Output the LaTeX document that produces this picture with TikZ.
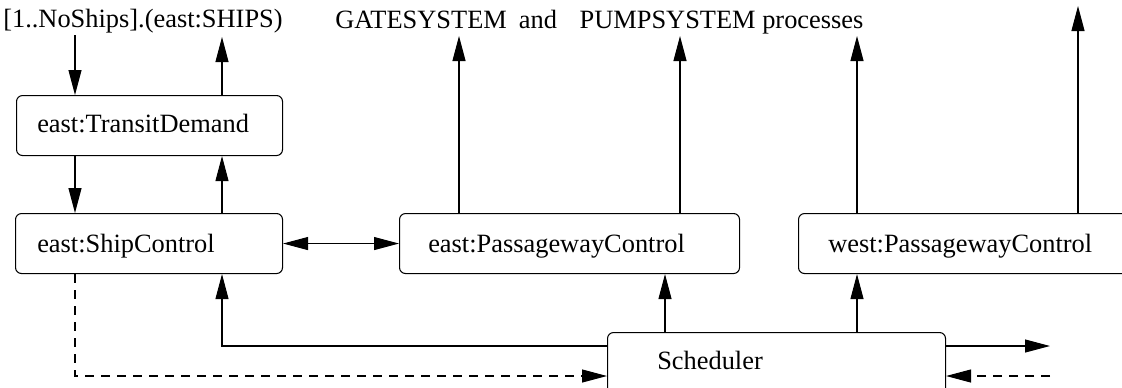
\documentclass[tikz,border=0pt]{standalone}
\usepackage{fontspec}
\setmainfont{Liberation Serif}
\usetikzlibrary{arrows.meta}

\begin{document}
\begin{tikzpicture}[x=0.75pt, y=-0.75pt,
  proc/.style={draw, line width=0.8pt, rounded corners=4.5pt, inner sep=0pt,
               minimum height=45pt, anchor=north west},
  txt/.style={inner sep=0pt, anchor=base west,
              font=\fontsize{19.8pt}{24pt}\selectfont},
  link/.style={line width=0.8pt, -{Triangle[length=18.75pt, width=9.75pt]}},
  twoway/.style={line width=0.8pt,
                 {Triangle[length=18.75pt, width=9.75pt]}-{Triangle[length=18.75pt, width=9.75pt]}},
  dashlink/.style={link, dash pattern=on 7pt off 5pt}]

\useasboundingbox (0,0) rectangle (1122,387);

% process boxes
\node[proc, minimum width=199.5pt]  (td)    at (16,95)   {};
\node[proc, minimum width=200.25pt] (sc)    at (15,213)  {};
\node[proc, minimum width=255pt]    (epc)   at (399,213) {};
\node[proc, minimum width=258pt]    (wpc)   at (798,213) {};
\node[proc, minimum width=253.5pt, minimum height=48pt] (sched) at (607,332) {};

% box labels
\node[txt] (tdl)    at (37,132)    {east:TransitDemand};
\node[txt] (scl)    at (37,252)    {east:ShipControl};
\node[txt] (epcl)   at (428,252.5) {east:PassagewayControl};
\node[txt] (wpcl)   at (828,252.5) {west:PassagewayControl};
\node[txt] (schedl) at (657,369)   {Scheduler};

% environment labels
\node[txt] (ships) at (3,27) {[1..NoShips].(east:SHIPS)};
\node[txt] (procs) at (335,28)
  {GATESYSTEM\hspace{9pt}and\hspace{17pt}PUMPSYSTEM processes};

% port columns and free ends
\coordinate (xa) at (75,0);
\coordinate (xb) at (222,0);
\coordinate (xc) at (459,0);
\coordinate (xd) at (665,0);
\coordinate (xe) at (680,0);
\coordinate (xf) at (857,0);
\coordinate (xg) at (1078,0);
\coordinate (inShips)  at (75,35);
\coordinate (outShips) at (222,37);
\coordinate (outC)     at (459,36);
\coordinate (outE)     at (680,36);
\coordinate (outF)     at (857,36);
\coordinate (outG)     at (1078,6);
\coordinate (rowA) at (0,346);
\coordinate (rowB) at (0,376);
\coordinate (outR) at (1050,346);
\coordinate (inR)  at (1050,376);

% ship traffic
\draw[link] (inShips) -- (td.north -| xa);
\draw[link] (td.north -| xb) -- (outShips);
\draw[link] (td.south -| xa) -- (sc.north -| xa);
\draw[link] (sc.north -| xb) -- (td.south -| xb);
\draw[twoway] (sc.east) -- (epc.west);

% passageway outputs
\draw[link] (epc.north -| xc) -- (outC);
\draw[link] (epc.north -| xe) -- (outE);
\draw[link] (wpc.north -| xf) -- (outF);
\draw[link] (wpc.north -| xg) -- (outG);

% scheduler connections
\draw[link] (sched.north -| xd) -- (epc.south -| xd);
\draw[link] (sched.north -| xf) -- (wpc.south -| xf);
\draw[link] (sched.west |- rowA) -| (sc.south -| xb);
\draw[dashlink] (sc.south -| xa) |- (sched.west |- rowB);
\draw[link] (sched.east |- rowA) -- (outR);
\draw[dashlink] (inR) -- (sched.east |- rowB);

\end{tikzpicture}
\end{document}
